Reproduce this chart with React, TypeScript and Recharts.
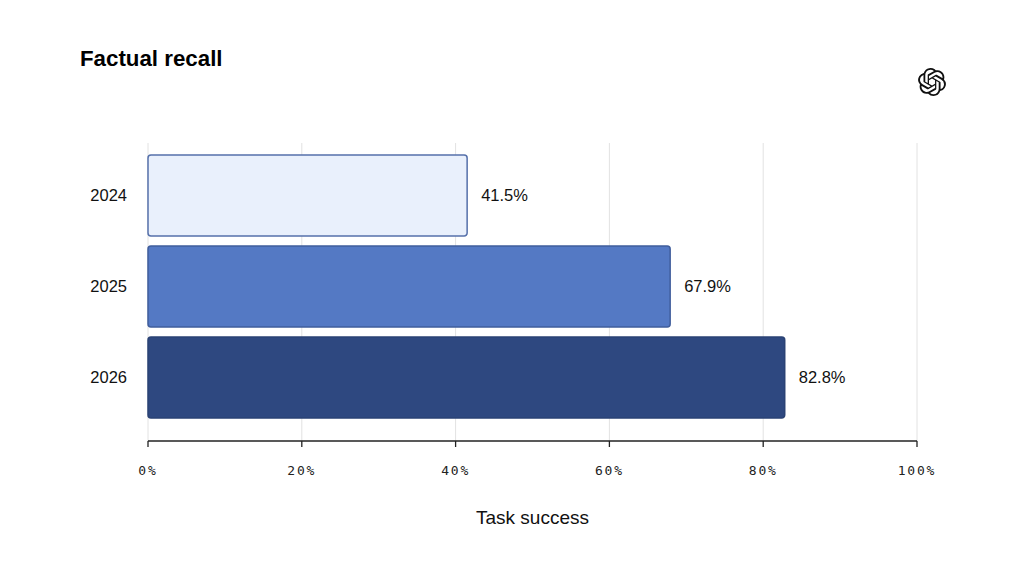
import { BarChart, Bar, XAxis, YAxis, CartesianGrid, Cell, LabelList } from "recharts";

const years = ["2024", "2025", "2026"];
const success = [41.5, 67.9, 82.8];
const xTicks = [0, 20, 40, 60, 80, 100];

const fills = ["#e9f0fc", "#5479c4", "#2e4880"];
const strokes = ["#5570aa", "#3f5d9c", "#2a4274"];

const data = years.map((year, i) => ({ year, value: success[i] }));

const sans = "'Liberation Sans', Arial, Helvetica, sans-serif";

const logoPath =
  "M22.2819 9.8211a5.9847 5.9847 0 0 0-.5157-4.9108 6.0462 6.0462 0 0 0-6.5098-2.9A6.0651 6.0651 0 0 0 4.9807 4.1818a5.9847 5.9847 0 0 0-3.9977 2.9 6.0462 6.0462 0 0 0 .7427 7.0966 5.98 5.98 0 0 0 .511 4.9107 6.051 6.051 0 0 0 6.5146 2.9001A5.9847 5.9847 0 0 0 13.2599 24a6.0557 6.0557 0 0 0 5.7718-4.2058 5.9894 5.9894 0 0 0 3.9977-2.9001 6.0557 6.0557 0 0 0-.7475-7.0729zm-9.022 12.6081a4.4755 4.4755 0 0 1-2.8764-1.0408l.1419-.0804 4.7783-2.7582a.7948.7948 0 0 0 .3927-.6813v-6.7369l2.02 1.1686a.071.071 0 0 1 .038.052v5.5826a4.504 4.504 0 0 1-4.4945 4.4944zm-9.6607-4.1254a4.4708 4.4708 0 0 1-.5346-3.0137l.142.0852 4.783 2.7582a.7712.7712 0 0 0 .7806 0l5.8428-3.3685v2.3324a.0804.0804 0 0 1-.0332.0615L9.74 19.9502a4.4992 4.4992 0 0 1-6.1408-1.6464zM2.3408 7.8956a4.485 4.485 0 0 1 2.3655-1.9728V11.6a.7664.7664 0 0 0 .3879.6765l5.8144 3.3543-2.0201 1.1685a.0757.0757 0 0 1-.071 0l-4.8303-2.7865A4.504 4.504 0 0 1 2.3408 7.872zm16.5963 3.8558L13.1038 8.364 15.1192 7.2a.0757.0757 0 0 1 .071 0l4.8303 2.7913a4.4944 4.4944 0 0 1-.6765 8.1042v-5.6772a.79.79 0 0 0-.407-.667zm2.0107-3.0231l-.142-.0852-4.7735-2.7818a.7759.7759 0 0 0-.7854 0L9.409 9.2297V6.8974a.0662.0662 0 0 1 .0284-.0615l4.8303-2.7866a4.4992 4.4992 0 0 1 6.6802 4.66zM8.3065 12.863l-2.02-1.1638a.0804.0804 0 0 1-.038-.0567V6.0742a4.4992 4.4992 0 0 1 7.3757-3.4537l-.142.0805L8.704 5.459a.7948.7948 0 0 0-.3927.6813zm1.0976-2.3654l2.602-1.4998 2.6069 1.4998v2.9994l-2.5974 1.4997-2.6067-1.4997Z";

const Logo = () => (
  <svg width={28} height={28} viewBox="0 0 24 24" style={{ position: "absolute", left: 918, top: 68 }}>
    <path d={logoPath} fill="#111" />
  </svg>
);

export default function App() {
  return (
    <div style={{ position: "absolute", left: 0, top: 0, width: 1024, height: 567, background: "#fff", fontFamily: sans }}>
      <div style={{ position: "absolute", left: 80, top: 46, fontSize: 22.3, fontWeight: 700, color: "#000" }}>
        Factual recall
      </div>
      <Logo />
      <BarChart
        width={1024}
        height={567}
        data={data}
        layout="vertical"
        margin={{ top: 143, right: 107, bottom: 36, left: 88 }}
      >
        <CartesianGrid horizontal={false} stroke="#e2e2e2" />
        <XAxis
          type="number"
          domain={[0, 100]}
          ticks={xTicks}
          tickFormatter={(v) => `${v}%`}
          height={90}
          axisLine={{ stroke: "#222", strokeWidth: 1.3 }}
          tickLine={{ stroke: "#222", strokeWidth: 1.3 }}
          tickSize={6}
          tickMargin={19}
          tick={{ fill: "#222", fontSize: 13, fontFamily: "'DejaVu Sans Mono', monospace", letterSpacing: 1.8 }}
          label={{ value: "Task success", position: "insideBottom", offset: 7, fill: "#111", fontSize: 19, fontFamily: sans }}
        />
        <YAxis
          type="category"
          dataKey="year"
          width={60}
          axisLine={false}
          tickLine={false}
          tickSize={0}
          tickMargin={21}
          padding={{ top: 7, bottom: 18 }}
          tick={{ fill: "#111", fontSize: 16.5, fontFamily: sans }}
        />
        <Bar dataKey="value" barSize={81} radius={3} strokeWidth={1.5} isAnimationActive={false}>
          {data.map((d, i) => (
            <Cell key={d.year} fill={fills[i]} stroke={strokes[i]} />
          ))}
          <LabelList
            dataKey="value"
            position="right"
            offset={14}
            formatter={(v: number) => `${v.toFixed(1)}%`}
            style={{ fill: "#111", fontSize: 16.5, fontFamily: sans }}
          />
        </Bar>
      </BarChart>
    </div>
  );
}
